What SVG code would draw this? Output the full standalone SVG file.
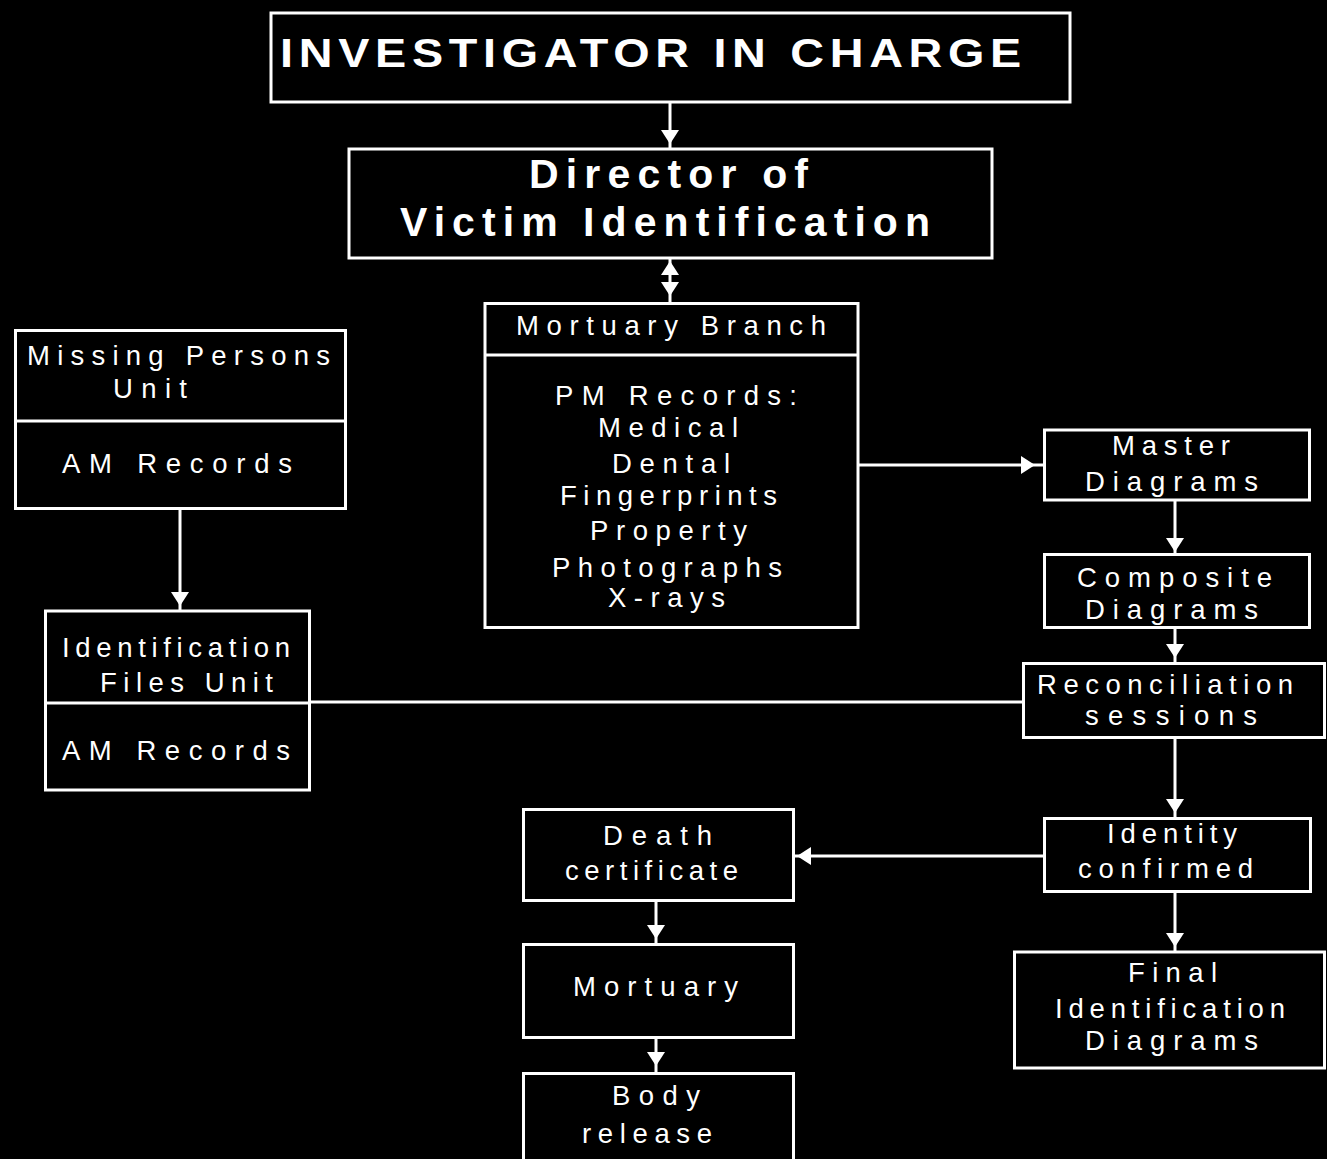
<svg xmlns="http://www.w3.org/2000/svg" width="1327" height="1159" viewBox="0 0 1327 1159">
  <style>
    .box { fill: none; stroke: #fff; stroke-width: 3; }
    .ln { stroke: #fff; stroke-width: 3; fill: none; }
    .head { fill: #fff; }
    .t { fill: #fff; font-family: "Liberation Sans", "DejaVu Sans", sans-serif; font-size: 27.5px; }
    .h { fill: #fff; font-family: "Liberation Sans", "DejaVu Sans", sans-serif; font-size: 41px; font-weight: bold; }
  </style>
  <defs>
    <path id="down" d="M-9,0 L9,0 L0,14 Z"/>
  </defs>
  <rect width="1327" height="1159" fill="#000"/>

  <g id="investigator">
    <rect class="box" x="271" y="13" width="799" height="89"/>
    <text class="h" x="280" y="67" textLength="747" lengthAdjust="spacingAndGlyphs" letter-spacing="5">INVESTIGATOR IN CHARGE</text>
  </g>

  <g id="director">
    <rect class="box" x="349" y="149" width="643" height="109"/>
    <text class="h" x="529" y="188" textLength="279" lengthAdjust="spacing">Director of</text>
    <text class="h" x="400" y="236" textLength="530" lengthAdjust="spacing">Victim Identification</text>
  </g>

  <g id="mortuary-branch">
    <rect class="box" x="485" y="303.5" width="373" height="324"/>
    <line class="ln" x1="485" y1="355" x2="858" y2="355"/>
    <text class="t" x="516" y="335" textLength="310" lengthAdjust="spacing">Mortuary Branch</text>
    <text class="t" x="555" y="405" textLength="242" lengthAdjust="spacing">PM Records:</text>
    <text class="t" x="598" y="437" textLength="140" lengthAdjust="spacing">Medical</text>
    <text class="t" x="612" y="473" textLength="118" lengthAdjust="spacing">Dental</text>
    <text class="t" x="560" y="505" textLength="217" lengthAdjust="spacing">Fingerprints</text>
    <text class="t" x="590" y="540" textLength="157" lengthAdjust="spacing">Property</text>
    <text class="t" x="552" y="577" textLength="230" lengthAdjust="spacing">Photographs</text>
    <text class="t" x="608" y="607" textLength="117" lengthAdjust="spacing">X-rays</text>
  </g>

  <g id="missing-persons">
    <rect class="box" x="15.5" y="330.5" width="330" height="178"/>
    <line class="ln" x1="15.5" y1="421" x2="345.5" y2="421"/>
    <text class="t" x="27" y="365" textLength="303" lengthAdjust="spacing">Missing Persons</text>
    <text class="t" x="113" y="398" textLength="74" lengthAdjust="spacing">Unit</text>
    <text class="t" x="62" y="473" textLength="230" lengthAdjust="spacing">AM Records</text>
  </g>

  <g id="identification-files">
    <rect class="box" x="45.5" y="611" width="264" height="179"/>
    <line class="ln" x1="45.5" y1="703" x2="309.5" y2="703"/>
    <text class="t" x="62" y="657" textLength="228" lengthAdjust="spacing">Identification</text>
    <text class="t" x="100" y="692" textLength="173" lengthAdjust="spacing">Files Unit</text>
    <text class="t" x="62" y="760" textLength="228" lengthAdjust="spacing">AM Records</text>
  </g>

  <g id="master-diagrams">
    <rect class="box" x="1044.5" y="430" width="265" height="70"/>
    <text class="t" x="1112" y="455" textLength="118" lengthAdjust="spacing">Master</text>
    <text class="t" x="1085" y="491" textLength="173" lengthAdjust="spacing">Diagrams</text>
  </g>

  <g id="composite-diagrams">
    <rect class="box" x="1044.5" y="554.5" width="265" height="73"/>
    <text class="t" x="1077" y="587" textLength="195" lengthAdjust="spacing">Composite</text>
    <text class="t" x="1085" y="619" textLength="173" lengthAdjust="spacing">Diagrams</text>
  </g>

  <g id="reconciliation">
    <rect class="box" x="1023.5" y="663.5" width="301" height="74"/>
    <text class="t" x="1037" y="694" textLength="256" lengthAdjust="spacing">Reconciliation</text>
    <text class="t" x="1085" y="725" textLength="172" lengthAdjust="spacing">sessions</text>
  </g>

  <g id="identity-confirmed">
    <rect class="box" x="1044.5" y="818.5" width="266" height="73"/>
    <text class="t" x="1107" y="843" textLength="130" lengthAdjust="spacing">Identity</text>
    <text class="t" x="1078" y="878" textLength="175" lengthAdjust="spacing">confirmed</text>
  </g>

  <g id="final-identification">
    <rect class="box" x="1014.5" y="952" width="310" height="116"/>
    <text class="t" x="1128" y="982" textLength="89" lengthAdjust="spacing">Final</text>
    <text class="t" x="1055" y="1018" textLength="230" lengthAdjust="spacing">Identification</text>
    <text class="t" x="1085" y="1050" textLength="173" lengthAdjust="spacing">Diagrams</text>
  </g>

  <g id="death-certificate">
    <rect class="box" x="523.5" y="809.5" width="270" height="91"/>
    <text class="t" x="603" y="845" textLength="109" lengthAdjust="spacing">Death</text>
    <text class="t" x="565" y="880" textLength="173" lengthAdjust="spacing">certificate</text>
  </g>

  <g id="mortuary">
    <rect class="box" x="523.5" y="944.5" width="270" height="93"/>
    <text class="t" x="573" y="996" textLength="165" lengthAdjust="spacing">Mortuary</text>
  </g>

  <g id="body-release">
    <rect class="box" x="523.5" y="1073.5" width="270" height="100"/>
    <text class="t" x="612" y="1105" textLength="88" lengthAdjust="spacing">Body</text>
    <text class="t" x="582" y="1143" textLength="130" lengthAdjust="spacing">release</text>
  </g>

  <g id="connectors">
    <!-- vertical links -->
    <line class="ln" x1="670" y1="102" x2="670" y2="149"/>
    <use href="#down" class="head" x="670" y="130"/>

    <line class="ln" x1="670" y1="258" x2="670" y2="303"/>
    <use href="#down" class="head" transform="translate(670,275) scale(1,-1)"/>
    <use href="#down" class="head" x="670" y="282"/>

    <line class="ln" x1="180" y1="508" x2="180" y2="611"/>
    <use href="#down" class="head" x="180" y="592"/>

    <line class="ln" x1="1175" y1="500" x2="1175" y2="555"/>
    <use href="#down" class="head" x="1175" y="538"/>

    <line class="ln" x1="1175" y1="627" x2="1175" y2="664"/>
    <use href="#down" class="head" x="1175" y="644"/>

    <line class="ln" x1="1175" y1="737" x2="1175" y2="819"/>
    <use href="#down" class="head" x="1175" y="799"/>

    <line class="ln" x1="1175" y1="891" x2="1175" y2="953"/>
    <use href="#down" class="head" x="1175" y="933"/>

    <line class="ln" x1="656" y1="900" x2="656" y2="945"/>
    <use href="#down" class="head" x="656" y="925"/>

    <line class="ln" x1="656" y1="1037" x2="656" y2="1074"/>
    <use href="#down" class="head" x="656" y="1052"/>

    <!-- horizontal links -->
    <line class="ln" x1="858" y1="465" x2="1044" y2="465"/>
    <use href="#down" class="head" transform="translate(1021,465) rotate(-90)"/>

    <line class="ln" x1="1044" y1="856" x2="794" y2="856"/>
    <use href="#down" class="head" transform="translate(811,856) rotate(90)"/>

    <line class="ln" x1="309" y1="702" x2="1024" y2="702"/>
  </g>
</svg>
